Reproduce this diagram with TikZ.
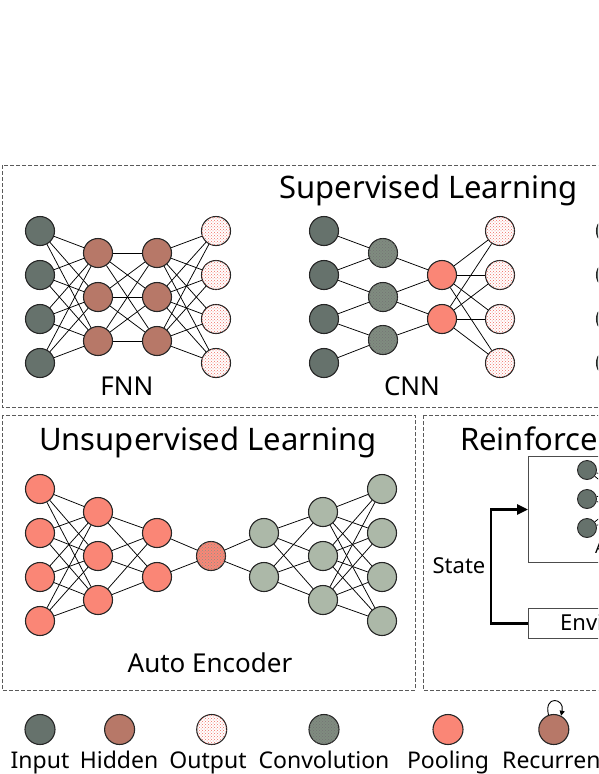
\documentclass[tikz,border=0pt]{standalone}
\usepackage{fontspec}
\setmainfont{Noto Sans}
\usetikzlibrary{patterns,arrows.meta}
\definecolor{cinput}{RGB}{102,114,108}
\definecolor{chidden}{RGB}{183,120,104}
\definecolor{cpool}{RGB}{250,134,118}
\definecolor{cconv}{RGB}{128,140,128}
\definecolor{cdec}{RGB}{172,184,168}
\definecolor{cdot}{RGB}{240,110,100}
\definecolor{cbox}{RGB}{90,90,90}
\newcommand\ttlfont{\fontsize{31}{36}\selectfont}
\newcommand\lblfont{\fontsize{26}{30}\selectfont}
\newcommand\lgdfont{\fontsize{23}{27}\selectfont}
\newcommand\rlfont{\fontsize{22}{26}\selectfont}
\tikzset{
  neuron/.style={circle, draw=black!85, line width=1.1pt, minimum size=29pt, inner sep=0pt},
  inp/.style={neuron, fill=cinput},
  hid/.style={neuron, fill=chidden},
  outn/.style={neuron, fill=white, postaction={pattern=crosshatch dots, pattern color=cdot}},
  conv/.style={neuron, fill=cconv, postaction={pattern=crosshatch dots, pattern color=black!55}},
  pool/.style={neuron, fill=cpool},
  code/.style={neuron, fill=cpool, postaction={pattern=crosshatch dots, pattern color=cdec!80!black}},
  dec/.style={neuron, fill=cdec},
  edge/.style={line width=0.75pt, black},
  region/.style={draw=cbox, line width=0.9pt, dash pattern=on 4pt off 2pt},
  solidbox/.style={draw=black!70, line width=1pt, inner sep=0pt, anchor=north west},
  statearrow/.style={line width=2.6pt, black, -{Triangle[length=11pt,width=10pt]}},
}
\begin{document}
\begin{tikzpicture}[x=1pt,y=-1pt]
\useasboundingbox (0,0) rectangle (598,774);
\clip (0,0) rectangle (598,774);
% regions
\draw[region] (2,165) rectangle (660,407);
\draw[region] (2,415) rectangle (415,690);
\draw[region] (423,415) rectangle (660,690);
% titles
\node[anchor=base] (tsup) at (428.5,198) {\ttlfont Supervised Learning};
\node[anchor=base] (tuns) at (208,450) {\ttlfont Unsupervised Learning};
\node[anchor=base west, inner sep=0pt] (trl) at (460,450) {\ttlfont Reinforcement Learning};
% FNN
\foreach \i/\y in {1/231,2/275,3/319,4/363} \node[inp] (fa\i) at (40,\y) {};
\foreach \i/\y in {1/253,2/297,3/341} \node[hid] (fb\i) at (98,\y) {};
\foreach \i/\y in {1/253,2/297,3/341} \node[hid] (fc\i) at (157,\y) {};
\foreach \i/\y in {1/231,2/275,3/319,4/363} \node[outn] (fd\i) at (216,\y) {};
\foreach \i in {1,...,4} \foreach \j in {1,2,3} {\draw[edge] (fa\i) -- (fb\j); \draw[edge] (fc\j) -- (fd\i);}
\foreach \i in {1,2,3} \foreach \j in {1,2,3} \draw[edge] (fb\i) -- (fc\j);
\node[anchor=base] (lfnn) at (127,395) {\lblfont FNN};
% CNN
\foreach \i/\y in {1/231,2/275,3/319,4/363} \node[inp] (ca\i) at (324,\y) {};
\foreach \i/\y in {1/253,2/297,3/340} \node[conv] (cb\i) at (383,\y) {};
\foreach \i/\y in {1/275,2/319} \node[pool] (cc\i) at (442,\y) {};
\foreach \i/\y in {1/231,2/275,3/319,4/363} \node[outn] (cd\i) at (500,\y) {};
\draw[edge] (ca1) -- (cb1); \draw[edge] (ca2) -- (cb1); \draw[edge] (ca2) -- (cb2);
\draw[edge] (ca3) -- (cb2); \draw[edge] (ca3) -- (cb3); \draw[edge] (ca4) -- (cb3);
\draw[edge] (cb1) -- (cc1); \draw[edge] (cb2) -- (cc1); \draw[edge] (cb2) -- (cc2); \draw[edge] (cb3) -- (cc2);
\foreach \i in {1,2} \foreach \j in {1,...,4} \draw[edge] (cc\i) -- (cd\j);
\node[anchor=base] (lcnn) at (412,395) {\lblfont CNN};
% third network (cut off)
\foreach \i/\y in {1/231,2/275,3/319,4/363} \node[inp] (ra\i) at (611,\y) {};
% Auto encoder
\foreach \i/\y in {1/489,2/533,3/577,4/621} \node[pool] (ua\i) at (40,\y) {};
\foreach \i/\y in {1/512,2/556,3/600} \node[pool] (ub\i) at (98,\y) {};
\foreach \i/\y in {1/533,2/577} \node[pool] (uc\i) at (157,\y) {};
\node[code] (um) at (211,556) {};
\foreach \i/\y in {1/533,2/577} \node[dec] (ud\i) at (264,\y) {};
\foreach \i/\y in {1/512,2/556,3/600} \node[dec] (ue\i) at (323,\y) {};
\foreach \i/\y in {1/489,2/533,3/577,4/621} \node[dec] (uf\i) at (382,\y) {};
\foreach \i in {1,...,4} \foreach \j in {1,2,3} {\draw[edge] (ua\i) -- (ub\j); \draw[edge] (ue\j) -- (uf\i);}
\foreach \i in {1,2,3} \foreach \j in {1,2} {\draw[edge] (ub\i) -- (uc\j); \draw[edge] (ud\j) -- (ue\i);}
\foreach \j in {1,2} {\draw[edge] (uc\j) -- (um); \draw[edge] (um) -- (ud\j);}
\node[anchor=base] (lae) at (210,672) {\lblfont Auto Encoder};
% Reinforcement learning
\node[solidbox, minimum width=120pt, minimum height=106pt] (agent) at (528,456) {};
\node[solidbox, minimum width=120pt, minimum height=30pt] (env) at (528,608) {};
\node[anchor=base west, inner sep=0pt] (lenv) at (560,630) {\rlfont Environment};
\foreach \i/\y in {1/470,2/499,3/528} \node[inp, minimum size=19pt, line width=0.9pt] (ga\i) at (587,\y) {};
\foreach \i/\y in {1/486,2/513} \node[inp, minimum size=19pt] (gb\i) at (640,\y) {};
\foreach \i in {1,2,3} \foreach \j in {1,2} \draw[edge] (ga\i) -- (gb\j);
\node[anchor=base west, inner sep=0pt] (lagent) at (595,553) {\fontsize{16}{18}\selectfont Agent};
\draw[statearrow] (env.west) -- ++(-37,0) |- (agent.west);
\node[anchor=base] (lstate) at (459,573) {\rlfont State};
% legend
\node[inp, minimum size=30pt] (li) at (40,729.5) {};
\node[hid, minimum size=30pt] (lh) at (119.6,729.5) {};
\node[outn, minimum size=30pt] (lo) at (211.7,729.5) {};
\node[conv, minimum size=30pt] (lc) at (324,729.5) {};
\node[pool, minimum size=30pt] (lp) at (448,729.5) {};
\node[hid, minimum size=30pt] (lr) at (553.8,729.5) {};
\draw[line width=0.9pt, -{Triangle[length=5pt,width=5pt]}] (lr.110) .. controls +(-5,-20) and +(4,-18) .. (lr.62);
\node[anchor=base] (tli) at (40,768) {\lgdfont Input};
\node[anchor=base] (tlh) at (119,768) {\lgdfont Hidden};
\node[anchor=base] (tlo) at (208,768) {\lgdfont Output};
\node[anchor=base] (tlc) at (324,768) {\lgdfont Convolution};
\node[anchor=base] (tlp) at (448,768) {\lgdfont Pooling};
\node[anchor=base west, inner sep=0pt] (tlr) at (502,768) {\lgdfont Recurrent};
\end{tikzpicture}
\end{document}
